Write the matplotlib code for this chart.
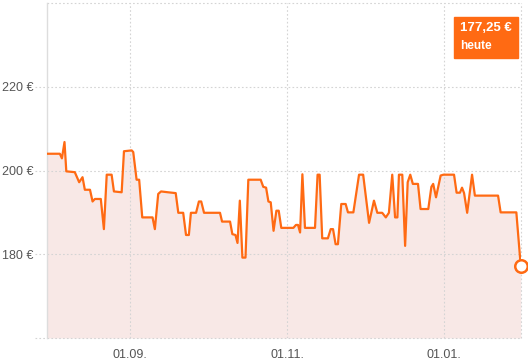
import matplotlib
matplotlib.use("Agg")
import matplotlib.pyplot as plt
import matplotlib.dates as mdates
import matplotlib.transforms as mtransforms
import pandas as pd

# price history, days counted from 31.07.2023
start = "2023-07-31"
days = [0, 4.8, 5.6, 6.6, 7.3, 10.6, 12.3, 13.6, 14.5, 16.5, 17.5, 18.4, 20.7, 21.9,
        23.0, 24.9, 25.8, 28.8, 29.7, 32.7, 33.3, 34.6, 35.6, 36.8, 40.8, 41.7, 43.0,
        44.1, 46.8, 49.8, 50.8, 52.7, 53.8, 54.9, 55.7, 57.7, 58.8, 59.7, 60.8, 67.0,
        67.8, 70.9, 71.8, 73.0, 73.8, 74.7, 75.7, 76.9, 78.0, 82.8, 83.8, 84.9, 85.8,
        86.7, 87.8, 88.9, 89.8, 90.8, 95.5, 96.5, 97.3, 98.1, 99.0, 100.0, 103.9, 104.9,
        105.7, 106.7, 108.9, 110.0, 110.9, 111.9, 112.8, 114.1, 115.8, 116.7, 118.8,
        121.0, 122.6, 124.9, 126.8, 128.1, 130.0, 131.4, 132.6, 133.9, 135.0, 135.9,
        136.5, 137.8, 138.9, 139.9, 140.9, 141.9, 143.9, 144.9, 147.9, 149.1, 149.8,
        150.9, 152.7, 153.8, 157.9, 158.9, 160.2, 161.0, 161.8, 163.0, 164.9, 166.0,
        175.0, 176.0, 182.1, 183.8]
prices = [204.0, 204.0, 202.9, 206.8, 199.8, 199.6, 197.2, 198.4, 195.4, 195.4, 192.6,
          193.2, 193.2, 186.0, 199.0, 199.0, 195.0, 194.8, 204.6, 204.8, 204.4, 197.8,
          197.8, 188.8, 188.8, 186.0, 194.4, 195.0, 194.8, 194.6, 189.9, 189.9, 184.6,
          184.6, 189.9, 189.9, 192.6, 192.6, 189.9, 189.9, 187.8, 187.8, 184.8, 184.6,
          182.7, 192.8, 179.2, 179.2, 197.8, 197.8, 196.1, 195.9, 192.6, 192.4, 185.6,
          190.4, 190.4, 186.3, 186.3, 187.0, 187.0, 185.2, 199.1, 186.3, 186.3, 199.0,
          199.0, 183.8, 183.8, 186.0, 186.0, 182.4, 182.4, 192.0, 192.0, 190.0, 190.0,
          199.0, 199.0, 187.5, 192.8, 189.9, 189.9, 188.8, 189.9, 199.0, 188.8, 188.8,
          199.0, 199.0, 182.0, 197.2, 199.0, 196.8, 196.8, 190.8, 190.8, 196.1, 196.8,
          193.6, 198.8, 199.0, 199.0, 194.7, 194.7, 195.9, 194.6, 189.9, 199.0, 194.0,
          194.0, 190.0, 190.0, 177.25]
xtick_dates = ["2023-09-01", "2023-11-01", "2024-01-01"]
ytick_values = [180, 200, 220]
current_price = "177,25 €"
current_label = "heute"

orange = "#ff6a13"
fill_col = "#f8e8e6"
grid_col = "#d4d4d4"
text_col = "#555555"

plt.rcParams["font.family"] = ["Liberation Sans", "DejaVu Sans"]

dates = pd.Timestamp(start) + pd.to_timedelta(days, unit="D")

fig = plt.figure(figsize=(5.28, 3.61), dpi=100)
ax = fig.add_axes([0.089, 0.0637, 0.8977, 0.928])

ymin, ymax = 160, 240
x0 = pd.Timestamp(start) - pd.Timedelta(days=0.2)
x1 = pd.Timestamp(start) + pd.Timedelta(days=183.9)

ax.fill_between(dates, prices, ymin, color=fill_col, lw=0, zorder=1)
ax.plot(dates, prices, color=orange, lw=1.6, zorder=3, solid_joinstyle="round")
ax.plot(dates[-1], prices[-1], "o", ms=9, mfc="white", mec=orange, mew=1.8,
        clip_on=False, zorder=4)

ax.set_xlim(x0, x1)
ax.set_ylim(ymin, ymax)

ax.set_yticks(ytick_values)
ax.set_yticklabels([f"{v} €" for v in ytick_values])
ax.set_xticks(pd.to_datetime(xtick_dates))
ax.xaxis.set_major_formatter(mdates.DateFormatter("%d.%m."))
ax.tick_params(length=0, labelsize=9, labelcolor=text_col)
ax.tick_params(axis="y", pad=10)
ax.tick_params(axis="x", pad=8)

grid_kw = dict(color=grid_col, lw=0.8, ls=(0, (1.5, 2)), zorder=2)
ax.grid(True, **grid_kw)
ax.axhline(ymax, clip_on=False, **grid_kw)
ax.axvline(x1, clip_on=False, **grid_kw)

# dotted stubs left of the axis
trans = mtransforms.blended_transform_factory(ax.transAxes, ax.transData)
for v in ytick_values + [ymin]:
    ax.plot([-0.025, 0], [v, v], transform=trans, clip_on=False, **grid_kw)
ax.axhline(ymin, clip_on=False, **grid_kw)

for side in ["top", "right", "bottom"]:
    ax.spines[side].set_visible(False)
ax.spines["left"].set_color("#dddddd")
ax.spines["left"].set_linewidth(1)

# badge with the current price
badge = plt.Rectangle((454 / 528, 1 - 58 / 361), 64 / 528, 41 / 361,
                      transform=fig.transFigure, color=orange, zorder=5)
fig.patches.append(badge)
fig.text(460 / 528, 1 - 28 / 361, current_price, color="white", fontsize=9.5,
         fontweight="bold", va="center", ha="left", zorder=6)
fig.text(460 / 528, 1 - 46 / 361, current_label, color="white", fontsize=8.5,
         fontweight="bold", va="center", ha="left", zorder=6)

fig.savefig("out.png", dpi=100)
